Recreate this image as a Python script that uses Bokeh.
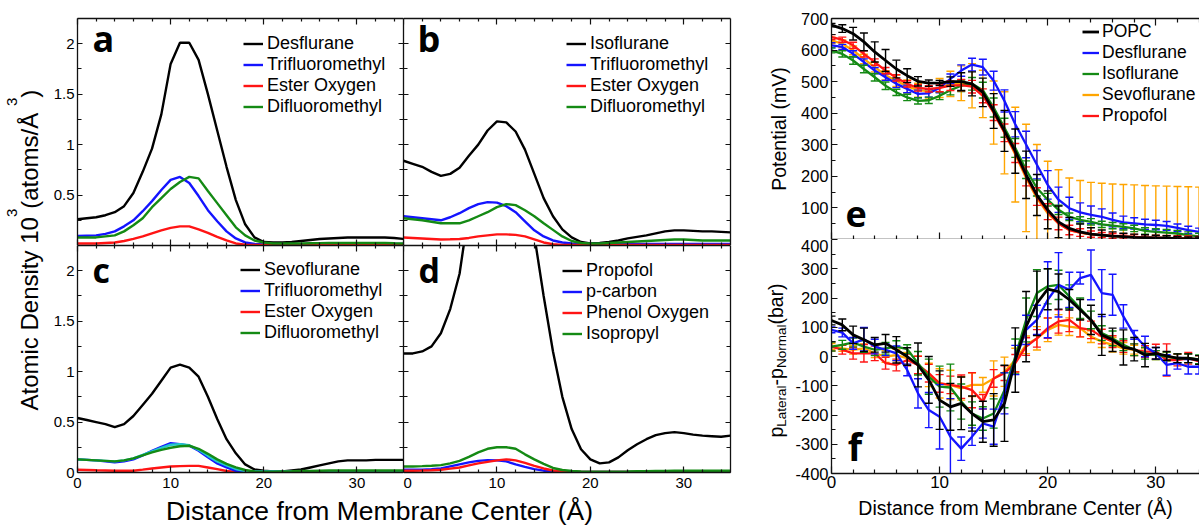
import math
from bokeh.plotting import figure
from bokeh.layouts import row, column
from bokeh.models import (ColumnDataSource, FixedTicker, LinearAxis, Range1d, Label,
                          Legend, LegendItem, CustomJSTickFormatter)
from bokeh.embed import file_html
from bokeh.resources import INLINE

FONT = "Liberation Sans"
LETTER_FONT = "Open Sans"
BLACK = "#000000"
BLUE = "#1414ff"
RED = "#ff1414"
GREEN = "#148a14"
ORANGE = "#ffa500"
CYAN = "#20c8c8"

# ---------------- data: atomic density panels (x = distance, Å) ----------------
dist = list(range(36))

a_desflurane = [0.26, 0.27, 0.28, 0.30, 0.33, 0.39, 0.52, 0.73, 0.96, 1.30, 1.80, 2.01, 2.01, 1.84, 1.50, 1.14,
                0.78, 0.45, 0.21, 0.08, 0.035, 0.03, 0.03, 0.035, 0.045, 0.055, 0.065, 0.07, 0.075, 0.08, 0.08,
                0.08, 0.08, 0.08, 0.075, 0.065]
a_trifluoro = [0.094, 0.097, 0.10, 0.115, 0.14, 0.19, 0.25, 0.34, 0.44, 0.55, 0.65, 0.68, 0.62, 0.49, 0.35, 0.24,
               0.14, 0.07, 0.03, 0.015, 0.01, 0.01, 0.01, 0.01, 0.012, 0.015, 0.015, 0.015, 0.015, 0.015, 0.015,
               0.015, 0.015, 0.015, 0.015, 0.015]
a_ester = [0.02, 0.02, 0.02, 0.025, 0.03, 0.045, 0.065, 0.09, 0.12, 0.15, 0.175, 0.19, 0.19, 0.16, 0.125, 0.085,
           0.05, 0.02, 0.008, 0.005, 0.005, 0.005, 0.005, 0.005, 0.005, 0.005, 0.005, 0.005, 0.005, 0.005, 0.005,
           0.005, 0.005, 0.005, 0.005, 0.005]
a_difluoro = [0.08, 0.08, 0.08, 0.09, 0.10, 0.14, 0.20, 0.27, 0.38, 0.47, 0.56, 0.63, 0.68, 0.665, 0.54, 0.42,
              0.30, 0.18, 0.10, 0.05, 0.03, 0.02, 0.02, 0.02, 0.02, 0.022, 0.024, 0.025, 0.025, 0.025, 0.025,
              0.025, 0.025, 0.025, 0.022, 0.02]

b_isoflurane = [0.84, 0.81, 0.78, 0.73, 0.69, 0.71, 0.77, 0.89, 1.00, 1.14, 1.23, 1.22, 1.13, 0.95, 0.71, 0.47,
                0.29, 0.16, 0.08, 0.035, 0.02, 0.025, 0.035, 0.05, 0.07, 0.085, 0.10, 0.12, 0.14, 0.15, 0.15,
                0.145, 0.14, 0.14, 0.135, 0.13]
b_trifluoro = [0.29, 0.28, 0.27, 0.26, 0.25, 0.28, 0.32, 0.37, 0.41, 0.43, 0.425, 0.39, 0.33, 0.24, 0.15, 0.09,
               0.05, 0.03, 0.02, 0.015, 0.015, 0.015, 0.015, 0.015, 0.015, 0.015, 0.015, 0.015, 0.015, 0.015,
               0.015, 0.015, 0.015, 0.015, 0.015, 0.015]
b_ester = [0.08, 0.075, 0.07, 0.065, 0.06, 0.062, 0.065, 0.075, 0.09, 0.10, 0.11, 0.11, 0.105, 0.09, 0.06, 0.03,
           0.012, 0.006, 0.005, 0.005, 0.005, 0.005, 0.005, 0.005, 0.005, 0.005, 0.005, 0.005, 0.005, 0.005,
           0.005, 0.005, 0.005, 0.005, 0.005, 0.005]
b_difluoro = [0.27, 0.26, 0.25, 0.235, 0.22, 0.22, 0.22, 0.25, 0.29, 0.33, 0.38, 0.41, 0.40, 0.35, 0.29, 0.22,
              0.155, 0.09, 0.045, 0.025, 0.02, 0.02, 0.025, 0.03, 0.035, 0.04, 0.045, 0.05, 0.055, 0.06, 0.06,
              0.055, 0.05, 0.05, 0.05, 0.05]

c_sevoflurane = [0.54, 0.52, 0.50, 0.48, 0.45, 0.48, 0.56, 0.67, 0.78, 0.91, 1.04, 1.07, 1.04, 0.95, 0.75, 0.53,
                 0.33, 0.19, 0.08, 0.03, 0.017, 0.01, 0.01, 0.02, 0.03, 0.05, 0.07, 0.09, 0.11, 0.12, 0.12, 0.12,
                 0.125, 0.125, 0.125, 0.125]
c_trifluoro = [0.13, 0.125, 0.12, 0.11, 0.10, 0.11, 0.13, 0.17, 0.215, 0.255, 0.29, 0.28, 0.265, 0.215, 0.15,
               0.09, 0.05, 0.017, 0.01, 0.01, 0.01, 0.01, 0.01, 0.01, 0.01, 0.01, 0.01, 0.01, 0.01, 0.01, 0.01,
               0.01, 0.01, 0.01, 0.01, 0.01]
c_trifluoro2 = [0.13, 0.125, 0.12, 0.115, 0.11, 0.12, 0.14, 0.175, 0.21, 0.245, 0.275, 0.28, 0.27, 0.225, 0.165,
                0.11, 0.07, 0.035, 0.015, 0.01, 0.01, 0.01, 0.01, 0.01, 0.01, 0.01, 0.01, 0.01, 0.01, 0.01, 0.01,
                0.01, 0.01, 0.01, 0.01, 0.01]
c_ester = [0.027, 0.025, 0.022, 0.02, 0.017, 0.017, 0.018, 0.028, 0.04, 0.05, 0.06, 0.063, 0.066, 0.066, 0.05,
           0.033, 0.015, 0.005, 0.004, 0.004, 0.004, 0.004, 0.004, 0.004, 0.004, 0.004, 0.004, 0.004, 0.004,
           0.004, 0.004, 0.004, 0.004, 0.004, 0.004, 0.004]
c_difluoro = [0.13, 0.125, 0.12, 0.115, 0.11, 0.12, 0.14, 0.17, 0.20, 0.225, 0.245, 0.26, 0.265, 0.235, 0.185,
              0.13, 0.085, 0.05, 0.025, 0.01, 0.008, 0.008, 0.01, 0.012, 0.015, 0.015, 0.018, 0.02, 0.02, 0.02,
              0.02, 0.02, 0.02, 0.02, 0.02, 0.02]

d_propofol = [1.18, 1.18, 1.20, 1.25, 1.38, 1.62, 1.97, 2.6, 3.4, 4.1, 4.5, 4.4, 3.8, 3.1, 2.35, 1.75, 1.20, 0.75,
              0.43, 0.23, 0.13, 0.09, 0.10, 0.15, 0.22, 0.28, 0.33, 0.37, 0.39, 0.40, 0.39, 0.375, 0.365, 0.36,
              0.355, 0.365]
d_pcarbon = [0.027, 0.027, 0.028, 0.033, 0.04, 0.06, 0.08, 0.10, 0.115, 0.123, 0.12, 0.11, 0.08, 0.055, 0.033,
             0.018, 0.01, 0.007, 0.005, 0.005, 0.005, 0.005, 0.005, 0.005, 0.005, 0.005, 0.005, 0.005, 0.005,
             0.005, 0.005, 0.005, 0.005, 0.005, 0.005, 0.005]
d_phenol = [0.017, 0.018, 0.02, 0.023, 0.027, 0.038, 0.05, 0.07, 0.09, 0.105, 0.12, 0.13, 0.12, 0.095, 0.066,
            0.04, 0.02, 0.012, 0.008, 0.005, 0.005, 0.005, 0.005, 0.005, 0.005, 0.005, 0.005, 0.005, 0.005,
            0.005, 0.005, 0.005, 0.005, 0.005, 0.005, 0.005]
d_isopropyl = [0.06, 0.06, 0.063, 0.067, 0.073, 0.09, 0.115, 0.155, 0.20, 0.235, 0.25, 0.25, 0.235, 0.18, 0.13,
               0.085, 0.045, 0.025, 0.015, 0.01, 0.007, 0.007, 0.008, 0.009, 0.01, 0.012, 0.013, 0.015, 0.016,
               0.017, 0.017, 0.017, 0.017, 0.017, 0.017, 0.017]

# ---------------- data: potential (e) and pressure (f) ----------------
dist_ef = list(range(35))

e_popc = [679, 668, 652, 626, 594, 567, 540, 519, 501, 495, 496, 500, 500, 493, 466, 407, 344, 280, 205, 141, 94,
          56, 35, 24, 17, 14, 11, 9, 7, 6, 5, 4, 3, 2, 2]
e_popc_err = [5, 12, 20, 28, 32, 35, 28, 22, 15, 10, 8, 15, 28, 38, 45, 55, 65, 70, 75, 65, 60, 50, 35, 25, 20,
              16, 13, 11, 10, 9, 8, 8, 7, 6, 6]
e_des = [615, 610, 588, 562, 535, 514, 493, 477, 461, 463, 480, 509, 535, 554, 546, 503, 439, 365, 301, 237, 173,
         126, 99, 86, 78, 72, 62, 54, 51, 48, 46, 43, 37, 30, 24]
e_des_err = [8, 8, 10, 10, 10, 10, 12, 12, 12, 12, 15, 15, 18, 20, 25, 30, 35, 40, 42, 45, 45, 40, 35, 30, 28, 25,
             22, 20, 18, 16, 15, 14, 12, 12, 12]
e_iso = [599, 588, 567, 540, 514, 487, 466, 450, 439, 441, 455, 473, 487, 493, 473, 418, 354, 290, 221, 163, 126,
         94, 72, 62, 56, 48, 44, 40, 35, 27, 24, 22, 19, 14, 10]
e_iso_err = [8, 10, 12, 12, 12, 12, 10, 10, 10, 10, 12, 15, 18, 20, 25, 30, 30, 30, 28, 25, 20, 15, 12, 10, 10,
             10, 10, 10, 10, 10, 10, 10, 10, 10, 10]
e_sevo = [631, 620, 599, 572, 546, 520, 503, 485, 473, 470, 480, 493, 495, 487, 461, 402, 338, 269, 195, 131, 83,
          51, 30, 22, 16, 13, 11, 9, 8, 6, 5, 4, 3, 2, 1]
e_sevo_err = [10, 12, 14, 15, 15, 15, 18, 20, 22, 25, 30, 40, 55, 70, 75, 100, 130, 150, 170, 170, 165, 170, 165,
              165, 165, 165, 165, 165, 165, 165, 165, 165, 165, 165, 165]
e_prop = [641, 633, 615, 588, 562, 535, 512, 493, 480, 477, 480, 487, 489, 484, 455, 402, 338, 274, 200, 136, 88,
          51, 30, 22, 17, 14, 12, 10, 8, 7, 6, 5, 4, 3, 2]
e_prop_err = [8, 8, 10, 10, 10, 10, 10, 10, 10, 10, 12, 15, 18, 20, 22, 25, 28, 30, 30, 28, 25, 20, 15, 12, 10,
              8, 8, 8, 8, 8, 8, 8, 8, 8, 8]

f_popc = [123, 108, 74, 57, 40, 45, 23, 0, -29, -80, -149, -172, -160, -195, -223, -217, -160, -12, 102, 182, 230,
          222, 194, 160, 125, 74, 57, 31, 25, 5, 11, 2, -6, -6, -12]
f_popc_err = [15, 20, 30, 40, 25, 30, 45, 30, 75, 80, 100, 80, 90, 60, 70, 90, 130, 110, 120, 110, 70, 60, 35, 35,
              50, 70, 40, 60, 40, 40, 20, 15, 15, 15, 15]
f_des = [91, 82, 45, 59, 34, 23, 11, -46, -126, -183, -206, -274, -315, -274, -229, -240, -126, -12, 91, 125, 194,
         245, 228, 268, 279, 217, 211, 137, 74, 34, 11, -29, -23, -35, -35]
f_des_err = [10, 15, 20, 40, 25, 20, 25, 20, 50, 60, 110, 130, 40, 30, 50, 60, 70, 50, 50, 50, 130, 110, 60, 20,
             85, 80, 70, 40, 15, 35, 20, 35, 20, 25, 25]
f_iso = [34, 40, 48, 34, 23, 28, 34, 25, -23, -69, -103, -106, -154, -195, -212, -195, -115, 0, 125, 217, 240, 245,
         205, 165, 125, 80, 62, 40, 23, 11, 5, 0, -6, -6, -10]
f_iso_err = [15, 15, 15, 20, 20, 20, 20, 15, 40, 60, 70, 80, 60, 40, 40, 50, 60, 60, 75, 80, 60, 50, 40, 35, 30,
             25, 25, 20, 20, 20, 15, 15, 15, 15, 15]
f_sevo = [34, 28, 23, 28, 11, 0, 5, -6, -29, -63, -92, -97, -109, -97, -97, -75, -52, -12, 40, 62, 91, 108, 102, 97,
          68, 51, 40, 28, 23, 11, 5, 0, -6, -6, -12]
f_sevo_err = [10, 10, 15, 15, 15, 20, 20, 20, 30, 40, 50, 50, 40, 40, 25, 60, 50, 40, 30, 40, 40, 35, 30, 30, 20,
              20, 25, 20, 15, 15, 15, 15, 15, 15, 15]
f_prop = [34, 23, 11, 11, 11, -23, -29, -12, -29, -57, -92, -97, -103, -115, -155, -75, -57, -23, 34, 62, 97, 120,
          125, 97, 91, 68, 51, 34, 23, 17, 17, -12, -12, -6, -17]
f_prop_err = [15, 15, 20, 30, 25, 20, 20, 20, 30, 30, 30, 30, 40, 60, 25, 30, 25, 30, 30, 30, 35, 40, 40, 30, 30,
              25, 20, 20, 20, 20, 25, 55, 20, 20, 20]

# tick values
dens_x_ticks = [0, 10, 20, 30]
dens_x_minor = [2, 4, 6, 8, 12, 14, 16, 18, 22, 24, 26, 28, 32, 34]
dens_y_ticks_top = [0.5, 1, 1.5, 2]
dens_y_ticks_bottom = [0, 0.5, 1, 1.5, 2]
dens_y_minor = [0.25, 0.75, 1.25, 1.75]
pot_ticks = [0, 100, 200, 300, 400, 500, 600, 700]
pot_minor = [50, 150, 250, 350, 450, 550, 650]
pres_ticks = [-400, -300, -200, -100, 0, 100, 200, 300, 400]
pres_minor = [-350, -250, -150, -50, 50, 150, 250, 350]

# ---------------- helpers ----------------
NUM_FMT = "return String(Math.round(tick*100)/100);"


def base_fig(w, h, xr, yr, ml, mr, mt, mb):
    p = figure(width=w, height=h, x_range=Range1d(*xr), y_range=Range1d(*yr),
               output_backend="svg", toolbar_location=None,
               x_axis_location=None, y_axis_location=None,
               min_border_left=ml, min_border_right=mr, min_border_top=mt, min_border_bottom=mb)
    p.outline_line_color = None
    p.grid.visible = False
    p.background_fill_color = "white"
    p.border_fill_color = "white"
    return p


def add_axis(p, side, ticks, minor, show=False, size="15px", standoff=3, t_in=6, m_in=3, skip_zero=False):
    ax = LinearAxis(ticker=FixedTicker(ticks=ticks, minor_ticks=minor))
    ax.major_tick_in = t_in
    ax.major_tick_out = 0
    ax.minor_tick_in = m_in
    ax.minor_tick_out = 0
    ax.axis_line_width = 1.3
    ax.axis_line_color = "#111111"
    ax.major_tick_line_width = 1.2
    ax.minor_tick_line_width = 1.2
    ax.major_tick_line_color = "#111111"
    ax.minor_tick_line_color = "#111111"
    if show:
        code = ("if (tick == 0) { return ''; } " if skip_zero else "") + NUM_FMT
        ax.formatter = CustomJSTickFormatter(code=code)
        ax.major_label_text_font = FONT
        ax.major_label_text_font_size = size
        ax.major_label_text_color = "black"
        ax.major_label_standoff = standoff
    else:
        ax.formatter = CustomJSTickFormatter(code="return '';")
        ax.major_label_text_font_size = "0px"
        ax.major_label_standoff = 0
    p.add_layout(ax, side)
    return ax


def add_legend(p, entries, loc, font_size, row_h, glyph_w, standoff):
    items = [LegendItem(label=name, renderers=[r]) for name, r in entries]
    lg = Legend(items=items, location=loc, label_text_font=FONT, label_text_font_size=font_size,
                label_text_color="black", label_height=row_h, glyph_height=row_h, glyph_width=glyph_w,
                label_standoff=standoff, spacing=0, padding=0, margin=0,
                background_fill_alpha=0, border_line_color=None)
    p.add_layout(lg)


def letter(p, text, x, y, size="36px"):
    p.add_layout(Label(x=x, y=y, text=text, text_font=LETTER_FONT, text_font_style="bold",
                       text_font_size=size, text_color="black", text_baseline="middle"))


def density_panel(w, h, ml, mr, mt, mb, bottom_row, left_col, series, legend_names, legend_loc, tag, tag_xy,
                  tag_size="36px"):
    p = base_fig(w, h, (0, 35), (0, 2.25), ml, mr, mt, mb)
    add_axis(p, "below", dens_x_ticks, dens_x_minor, show=bottom_row, size="15px", standoff=5)
    add_axis(p, "above", dens_x_ticks, dens_x_minor)
    yt = dens_y_ticks_bottom if bottom_row else dens_y_ticks_top
    add_axis(p, "left", yt, dens_y_minor, show=left_col, size="15px", standoff=3, t_in=5, m_in=4)
    add_axis(p, "right", yt, dens_y_minor, t_in=5, m_in=4)
    rs = {}
    for key, ys, color in series:
        rs[key] = p.line(x=dist, y=ys, line_color=color, line_width=2.4)
    add_legend(p, [(name, rs[key]) for name, key in legend_names], legend_loc, "18px", 21, 20, 4)
    letter(p, tag, *tag_xy, size=tag_size)
    return p


# ---------------- left density panels ----------------
pa = density_panel(358, 245, 32, 0, 18, 0, False, True,
                   [("k", a_desflurane, BLACK), ("b", a_trifluoro, BLUE), ("r", a_ester, RED),
                    ("g", a_difluoro, GREEN)],
                   [("Desflurane", "k"), ("Trifluoromethyl", "b"), ("Ester Oxygen", "r"),
                    ("Difluoromethyl", "g")], (166, 128), "a", (1.6, 2.05))
pb = density_panel(347, 245, 0, 20, 18, 0, False, False,
                   [("k", b_isoflurane, BLACK), ("b", b_trifluoro, BLUE), ("r", b_ester, RED),
                    ("g", b_difluoro, GREEN)],
                   [("Isoflurane", "k"), ("Trifluoromethyl", "b"), ("Ester Oxygen", "r"),
                    ("Difluoromethyl", "g")], (163, 128), "b", (1.5, 2.05))
pc = density_panel(358, 250, 32, 0, 0, 23, True, True,
                   [("k", c_sevoflurane, BLACK), ("r", c_ester, RED), ("b", c_trifluoro, BLUE),
                    ("c", c_trifluoro2, CYAN), ("g", c_difluoro, GREEN)],
                   [("Sevoflurane", "k"), ("Trifluoromethyl", "b"), ("Ester Oxygen", "r"),
                    ("Difluoromethyl", "g")], (163, 129), "c", (1.6, 2.01), "34px")
pd_ = density_panel(347, 250, 0, 20, 0, 23, True, False,
                    [("k", d_propofol, BLACK), ("b", d_pcarbon, BLUE), ("r", d_phenol, RED),
                     ("g", d_isopropyl, GREEN)],
                    [("Propofol", "k"), ("p-carbon", "b"), ("Phenol Oxygen", "r"), ("Isopropyl", "g")],
                    (159, 128), "d", (1.6, 2.01), "34px")

# ---------------- label strip figures ----------------
WID = {"A": 667, "t": 278, "o": 556, "m": 833, "i": 222, "c": 500, " ": 278, "D": 722, "e": 556, "n": 556,
       "s": 500, "y": 500, "1": 556, "0": 556, "3": 556, "(": 333, "a": 556, "/": 278, "Å": 667, ")": 333,
       "p": 556, "L": 556, "r": 333, "l": 222, "-": 333, "N": 722, "b": 556}


def tw(s, size):
    return sum(WID.get(ch, 556) for ch in s) * size / 1000.0


def strip_fig(w, h):
    p = figure(width=w, height=h, x_range=Range1d(0, w), y_range=Range1d(0, h),
               output_backend="svg", toolbar_location=None, x_axis_location=None, y_axis_location=None,
               min_border=0)
    p.outline_line_color = None
    p.grid.visible = False
    return p


def vertical_pieces(p, pieces, start_y, base_x):
    y = start_y
    for text, size, shift in pieces:
        p.add_layout(Label(x=base_x + shift, y=y, text=text, angle=math.pi / 2, text_font=FONT,
                           text_font_size=f"{size}px", text_color="black", text_align="left",
                           text_baseline="middle"))
        y += tw(text, size)


# left y label strip
yl = strip_fig(45, 526)
vertical_pieces(yl, [("Atomic Density 10", 24, 0), ("3", 15, -17.5), (" (atoms/Å", 24, 0), ("3", 15, -17.5),
                     (")", 24, 0)], 526 - 410, 29.2)

# x label strip for left block
xl = strip_fig(705, 31)
xl.add_layout(Label(x=334, y=15.5, text="Distance from Membrane Center (Å)", text_font=FONT,
                    text_font_size="26.5px", text_color="black", text_align="center",
                    text_baseline="middle"))

# right y label strip
ylr = strip_fig(42, 526)
ylr.add_layout(Label(x=28.2, y=526 - 128.5, text="Potential (mV)", angle=math.pi / 2, text_font=FONT,
                     text_font_size="19.5px", text_color="black", text_align="center",
                     text_baseline="middle"))
vertical_pieces(ylr, [("p", 19.5, 0), ("Lateral", 13.5, 6), ("-p", 19.5, 0), ("Normal", 13.5, 6),
                      (" (bar)", 19.5, 0)], 526 - 437, 25.2)

# ---------------- right panels ----------------
XMAX = 34.04


def error_series(p, ys, errs, color, lw):
    src = ColumnDataSource(dict(x=dist_ef, y=ys,
                                lo=[v - e for v, e in zip(ys, errs)],
                                hi=[v + e for v, e in zip(ys, errs)]))
    p.segment(x0="x", y0="lo", x1="x", y1="hi", source=src, line_color=color, line_width=1.4)
    p.scatter(x="x", y="hi", source=src, marker="dash", size=8, line_color=color, line_width=1.4)
    p.scatter(x="x", y="lo", source=src, marker="dash", size=8, line_color=color, line_width=1.4)
    return p.line(x="x", y="y", source=src, line_color=color, line_width=lw)


pe = base_fig(407, 239, (0, XMAX), (0, 700), 39, 0, 18, 0)
add_axis(pe, "left", pot_ticks, pot_minor, show=True, size="16.5px", standoff=3, t_in=6, m_in=4, skip_zero=True)
add_axis(pe, "below", dens_x_ticks, dens_x_minor, t_in=7, m_in=4)
add_axis(pe, "above", dens_x_ticks, dens_x_minor, t_in=7, m_in=4)
er = {}
for key, ys, errs, color, lw in [("sevo", e_sevo, e_sevo_err, ORANGE, 2.3), ("des", e_des, e_des_err, BLUE, 2.3),
                                 ("iso", e_iso, e_iso_err, GREEN, 2.3), ("prop", e_prop, e_prop_err, RED, 2.3),
                                 ("popc", e_popc, e_popc_err, BLACK, 2.8)]:
    er[key] = error_series(pe, ys, errs, color, lw)
add_legend(pe, [("POPC", er["popc"]), ("Desflurane", er["des"]), ("Isoflurane", er["iso"]),
                ("Sevoflurane", er["sevo"]), ("Propofol", er["prop"])], (251, 113), "17.5px", 19, 17, 3)
letter(pe, "e", 1.3, 81)

pf = base_fig(407, 287, (0, XMAX), (-400, 400), 39, 0, 0, 53)
add_axis(pf, "left", pres_ticks, pres_minor, show=True, size="16.5px", standoff=3, t_in=6, m_in=4)
axb = add_axis(pf, "below", dens_x_ticks, dens_x_minor, show=True, size="17px", standoff=2, t_in=7, m_in=4)
axb.axis_label = "Distance from Membrane Center (Å)"
axb.axis_label_text_font = FONT
axb.axis_label_text_font_size = "19.5px"
axb.axis_label_text_font_style = "normal"
axb.axis_label_text_color = "black"
axb.axis_label_standoff = 6
for ys, errs, color, lw in [(f_sevo, f_sevo_err, ORANGE, 2.3), (f_prop, f_prop_err, RED, 2.3),
                            (f_iso, f_iso_err, GREEN, 2.3), (f_des, f_des_err, BLUE, 2.3),
                            (f_popc, f_popc_err, BLACK, 2.8)]:
    error_series(pf, ys, errs, color, lw)
letter(pf, "f", 1.5, -306, size="37px")

left_block = column(row(pa, pb), row(pc, pd_), xl)
right_block = row(ylr, column(pe, pf))
root = row(yl, left_block, right_block)

open("out.html", "w").write(file_html(root, INLINE))
